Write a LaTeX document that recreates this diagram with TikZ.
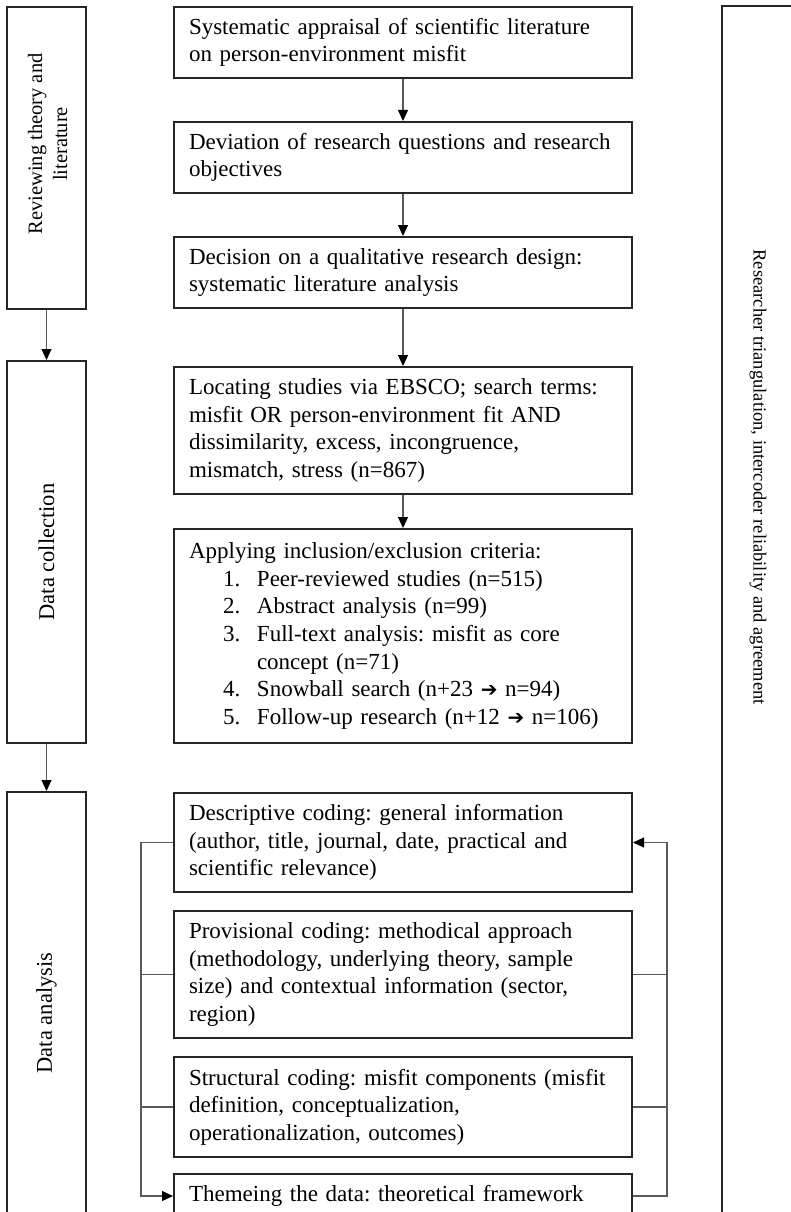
\documentclass[tikz,border=0pt]{standalone}
\usepackage{fontspec}
\setmainfont{Liberation Serif}
\newfontfamily\arrowfont{DejaVu Sans}
\usetikzlibrary{arrows.meta}
\frenchspacing

\newcommand{\thenarrow}{{\arrowfont\fontsize{20}{20}\selectfont ➔}}

\begin{document}
\begin{tikzpicture}[x=1pt,y=-1pt,>={Triangle[length=11pt,width=10pt,color=black]},
	stepbox/.style={draw=black!85,line width=2pt,anchor=north,inner xsep=15pt,
		text width=428pt,align=left,font=\fontsize{23}{27.6}\selectfont},
	phasebox/.style={draw=black!85,line width=2pt,anchor=north,minimum width=79pt},
	phaselabel/.style={rotate=90,align=center,font=\fontsize{22.5}{25}\selectfont},
	conn/.style={draw=black!65,line width=1.1pt}]
			%%%	Help Lines
%			\draw [thin, help lines] (0,0) grid[step=50] (791,1212);
			\useasboundingbox (0,0) rectangle (791,1212);
			\clip (0,0) rectangle (791,1212);
			%%%	Phases
			\node[phasebox,minimum height=302pt] (review) at (46.5,6) {};
			\node[phasebox,minimum height=382pt] (collect) at (46.5,360) {};
			\node[phasebox,minimum height=444pt] (analysis) at (46.5,791) {};
			\node[phaselabel,font=\fontsize{20.5}{25}\selectfont] (reviewlabel) at ([yshift=14pt,xshift=1pt]review.center) {Reviewing theory and\\literature};
			\node[phaselabel] (collectlabel) at (collect.center) {Data collection};
			\node[phaselabel] (analysislabel) at ([yshift=1pt]analysis.center) {Data analysis};
			\draw[conn,->] (review) -- (collect);
			\draw[conn,->] (collect) -- (analysis);
			%%%	Steps
			\node[stepbox,minimum height=71pt] (appraisal) at (403,6) {Systematic appraisal of scientific literature\\on person-environment misfit};
			\node[stepbox,minimum height=71pt] (questions) at (403,121) {Deviation of research questions and research\\objectives};
			\node[stepbox,minimum height=71pt] (design) at (403,236) {Decision on a qualitative research design:\\systematic literature analysis};
			\node[stepbox,minimum height=127pt] (locating) at (403,366) {Locating studies via EBSCO; search terms:\\misfit OR person-environment fit AND\\dissimilarity, excess, incongruence,\\mismatch, stress (n=867)};
			\node[stepbox,minimum height=214pt] (criteria) at (403,528) {Applying inclusion/exclusion criteria:\\
				\hspace*{34pt}\makebox[34pt][l]{1.}Peer-reviewed studies (n=515)\\
				\hspace*{34pt}\makebox[34pt][l]{2.}Abstract analysis (n=99)\\
				\hspace*{34pt}\makebox[34pt][l]{3.}Full-text analysis: misfit as core\\
				\hspace*{68pt}concept (n=71)\\
				\hspace*{34pt}\makebox[34pt][l]{4.}Snowball search (n+23 \thenarrow\ n=94)\\
				\hspace*{34pt}\makebox[34pt][l]{5.}Follow-up research (n+12 \thenarrow\ n=106)};
			\draw[conn,->] (appraisal) -- (questions);
			\draw[conn,->] (questions) -- (design);
			\draw[conn,->] (design) -- (locating);
			\draw[conn,->] (locating) -- (criteria);
			%%%	Coding cycle
			\node[stepbox,minimum height=99pt] (descr) at (403,792) {Descriptive coding: general information\\(author, title, journal, date, practical and\\scientific relevance)};
			\node[stepbox,minimum height=127pt] (prov) at (403,910) {Provisional coding: methodical approach\\(methodology, underlying theory, sample\\size) and contextual information (sector,\\region)};
			\node[stepbox,minimum height=100pt] (struct) at (403,1056) {Structural coding: misfit components (misfit\\definition, conceptualization,\\operationalization, outcomes)};
			\node[stepbox,minimum height=44pt] (theme) at (403,1173) {Themeing the data: theoretical framework};
			\draw[conn,->] (descr.west) -- ++(-32,0) |- (theme.west);
			\draw[conn] (prov.west) -- ++(-32,0);
			\draw[conn] (struct.west) -- ++(-32,0);
			\draw[conn,->] (theme.east) -- ++(34,0) |- (descr.east);
			\draw[conn] (prov.east) -- ++(34,0);
			\draw[conn] (struct.east) -- ++(34,0);
			%%%	Quality
			\node[draw=black!85,line width=2pt,anchor=north west,minimum width=90pt,minimum height=1230pt] (quality) at (721,5) {};
			\node[rotate=-90,font=\fontsize{18.5}{22}\selectfont] (qualitylabel) at (758,477) {Researcher triangulation, intercoder reliability and agreement};
		\end{tikzpicture}
\end{document}
